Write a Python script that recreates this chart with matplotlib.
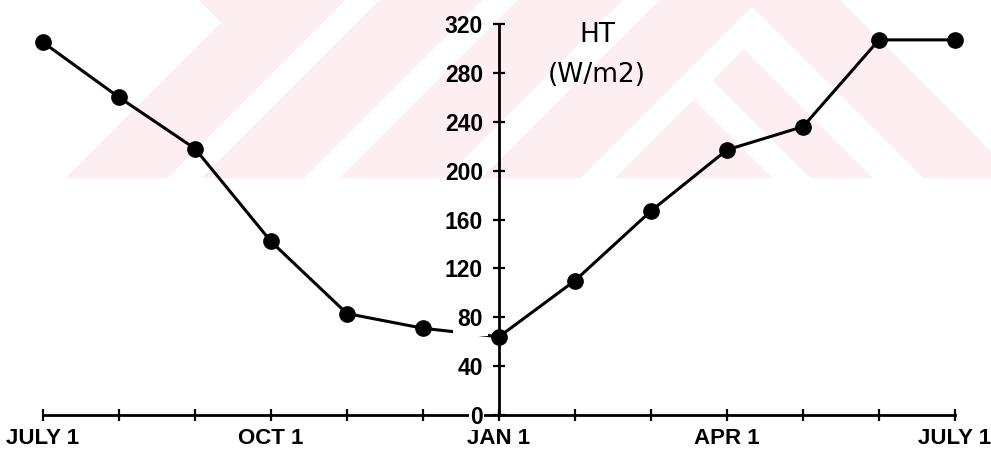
import numpy as np
import matplotlib
matplotlib.use("Agg")
import matplotlib.pyplot as plt

# monthly values, July 1 through the next July 1
months = list(range(13))
month_labels = ["JULY 1", "", "", "OCT 1", "", "", "JAN 1", "", "", "APR 1", "", "", "JULY 1"]
ht = [305, 260, 218, 142, 83, 71, 64, 110, 167, 217, 236, 307, 307]
y_ticks = [0, 40, 80, 120, 160, 200, 240, 280, 320]

plt.rcParams["font.family"] = ["Liberation Sans", "DejaVu Sans"]

W, H = 991, 463
fig = plt.figure(figsize=(W / 100, H / 100), dpi=100)

# faint pink watermark behind the chart (scanned page background)
yy, xx = np.mgrid[0:H, 0:W]
c = xx + yy
d = xx - yy
pink = (yy < 178) & ((c > 242) | (d > 198)) & (d < 840)
white = np.zeros_like(pink)
for lo, hi in [(345, 378), (482, 516), (622, 658)]:
    white |= (c >= lo) & (c <= hi)
white |= (c >= 758) & (c <= 792) & (d <= 745)
white |= (d >= 695) & (d <= 745) & (c >= 758)
white |= (d >= 595) & (d <= 632) & (c >= 758)
wm = np.zeros((H, W, 4))
wm[pink & ~white] = np.array([253, 238, 241, 255]) / 255
fig.figimage(wm, xo=0, yo=0, origin="upper", zorder=-1)

ax = fig.add_axes([43 / W, 48 / H, 912 / W, 391 / H])
ax.patch.set_alpha(0)
ax.set_axisbelow(False)

ax.plot(months, ht, color="black", lw=2.2, marker="o", ms=11, clip_on=False)

ax.set_xlim(0, 12)
ax.set_ylim(0, 320)

for side in ["top", "right"]:
    ax.spines[side].set_visible(False)
ax.spines["left"].set_position(("data", 6))
ax.spines["left"].set_linewidth(2)
ax.spines["bottom"].set_linewidth(2)

ax.set_xticks(months)
ax.set_xticklabels(month_labels, fontsize=16, fontweight="bold")
ax.set_yticks(y_ticks)
ax.set_yticklabels([str(v) for v in y_ticks], fontsize=16.5, fontweight="bold")
ax.tick_params(axis="x", direction="inout", length=8, width=1.6, pad=5)
ax.tick_params(axis="y", direction="inout", length=9, width=1.6, pad=7)

# the "0" and "80" labels knock out the lines behind them, as on the original
ylabels = ax.get_yticklabels()
ylabels[0].set_bbox(dict(facecolor="white", edgecolor="none", pad=1))
ylabels[2].set_bbox(dict(facecolor="white", edgecolor="none", pad=3.5))

fig.text(597 / W, 1 - 35 / H, "HT", ha="center", va="center",
         fontsize=19, family="DejaVu Sans")
fig.text(597 / W, 1 - 75 / H, "(W/m2)", ha="center", va="center",
         fontsize=19, family="DejaVu Sans")

fig.savefig("out.png", dpi=100)
